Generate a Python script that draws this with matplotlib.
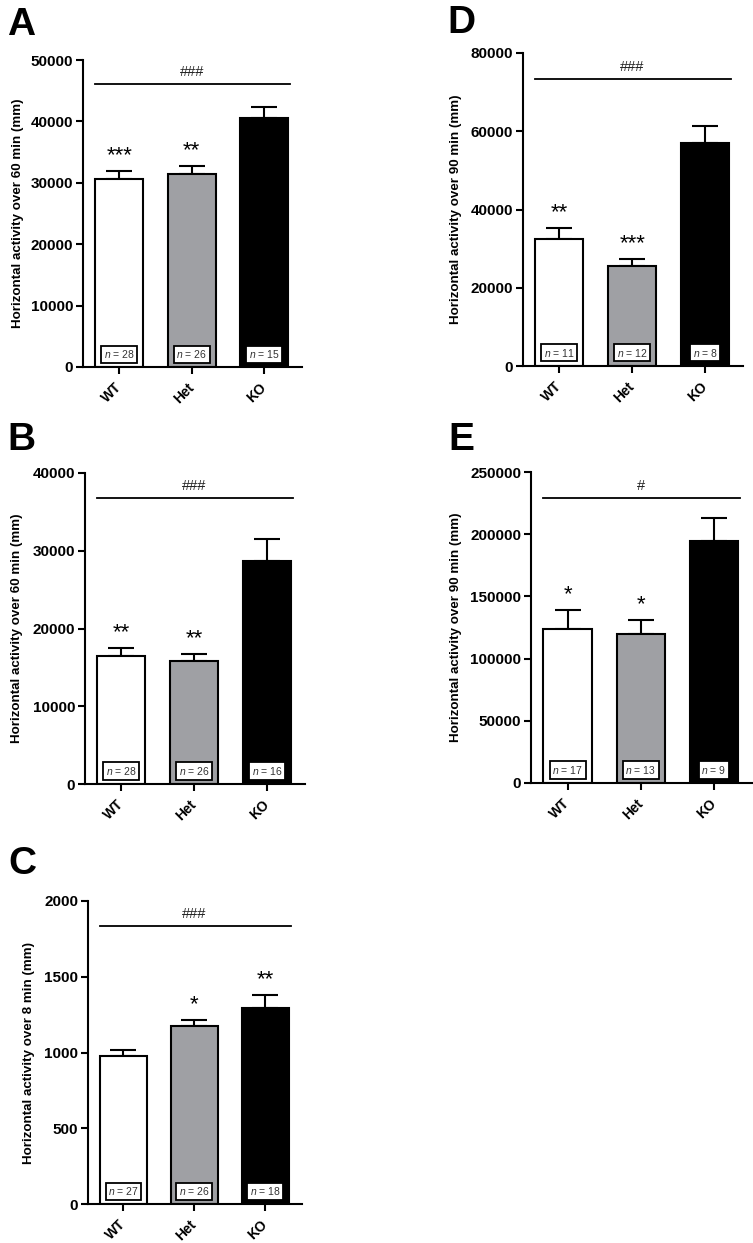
import matplotlib
matplotlib.use('Agg')
import matplotlib.pyplot as plt
import matplotlib.transforms as mtransforms

plt.rcParams['font.family'] = ['Liberation Sans', 'DejaVu Sans']
plt.rcParams['mathtext.fontset'] = 'custom'
plt.rcParams['mathtext.it'] = 'Liberation Sans:italic'
plt.rcParams['mathtext.rm'] = 'Liberation Sans'

# --- data ---
groups = ['WT', 'Het', 'KO']
colors = ['white', '#9fa0a4', 'black']

a_mean = [30600, 31500, 40600]
a_sem = [1300, 1250, 1700]
a_n = [28, 26, 15]
a_stars = ['***', '**', '']

b_mean = [16450, 15800, 28650]
b_sem = [1050, 900, 2850]
b_n = [28, 26, 16]
b_stars = ['**', '**', '']

c_mean = [977, 1175, 1295]
c_sem = [40, 40, 85]
c_n = [27, 26, 18]
c_stars = ['', '*', '**']

d_mean = [32400, 25500, 57000]
d_sem = [2850, 1800, 4350]
d_n = [11, 12, 8]
d_stars = ['**', '***', '']

e_mean = [123800, 119800, 194500]
e_sem = [15200, 11200, 18500]
e_n = [17, 13, 9]
e_stars = ['*', '*', '']

W, H = 753, 1243
fig = plt.figure(figsize=(W / 100, H / 100), dpi=100)


def px_axes(left, right, top, bottom):
    return fig.add_axes([left / W, 1 - bottom / H, (right - left) / W, (bottom - top) / H])


def panel(ax, letter, lx, ly, mean, sem, n, stars, ymax, ystep, ylabel,
          sig_text, sig_y, label_x):
    x = range(len(groups))
    ax.bar(x, mean, width=0.66, color=colors, edgecolor='black', linewidth=1.5, zorder=2)
    ax.errorbar(x, mean, yerr=[[0] * len(sem), sem], fmt='none', ecolor='black',
                elinewidth=1.5, capsize=9.5, capthick=1.5, zorder=1)
    for i in x:
        if stars[i]:
            ax.annotate(stars[i], (i, mean[i] + sem[i]), xytext=(0, 7),
                        textcoords='offset points', ha='center', va='baseline',
                        fontsize=16)
    trans = mtransforms.blended_transform_factory(ax.transData, ax.transAxes)
    for i in x:
        ax.text(i, 0.042, '$n$ = %d' % n[i], transform=trans, ha='center', va='center',
                fontsize=7.5, color='#333333',
                bbox=dict(boxstyle='square,pad=0.25', fc='white', ec='black', lw=1.3),
                zorder=3)
    ax.plot([-0.33, 2.36], [sig_y, sig_y], color='black', lw=1.3, clip_on=False)
    ax.annotate(sig_text, (1, sig_y), xytext=(0, 6), textcoords='offset points',
                ha='center', va='baseline', fontsize=10.5, color='#222222')

    ax.set_xlim(-0.5, 2.52)
    ax.set_ylim(0, ymax)
    ax.set_yticks(range(0, ymax + 1, ystep))
    ax.set_xticks(list(x))
    ax.set_xticklabels(groups, rotation=45, ha='right', va='center',
                       rotation_mode='anchor', fontsize=10, fontweight='bold')
    for lab in ax.get_yticklabels():
        lab.set_fontsize(11)
        lab.set_fontweight('bold')
    ax.set_ylabel(ylabel, fontsize=9.6, fontweight='bold')
    ax.yaxis.set_label_coords(label_x, 0.5)
    for s in ['top', 'right']:
        ax.spines[s].set_visible(False)
    for s in ['left', 'bottom']:
        ax.spines[s].set_linewidth(1.5)
    ax.tick_params(axis='both', width=1.5, length=5, pad=2)
    ax.tick_params(axis='x', pad=8)
    fig.text(lx / W, 1 - ly / H, letter, fontsize=28, fontweight='bold', va='baseline')


ax_a = px_axes(83, 302, 60, 367)
panel(ax_a, 'A', 7, 35, a_mean, a_sem, a_n, a_stars, 50000, 10000,
      'Horizontal activity over 60 min (mm)', '###', 46100, -0.27)

ax_d = px_axes(523, 743, 53, 366)
panel(ax_d, 'D', 447, 33, d_mean, d_sem, d_n, d_stars, 80000, 20000,
      'Horizontal activity over 90 min (mm)', '###', 73360, -0.277)

ax_b = px_axes(85, 305, 473, 784)
panel(ax_b, 'B', 7, 450, b_mean, b_sem, b_n, b_stars, 40000, 10000,
      'Horizontal activity over 60 min (mm)', '###', 36780, -0.282)

ax_e = px_axes(531, 752, 472, 783)
panel(ax_e, 'E', 448, 450, e_mean, e_sem, e_n, e_stars, 250000, 50000,
      'Horizontal activity over 90 min (mm)', '#', 229100, -0.312)

ax_c = px_axes(88, 302, 901, 1204)
panel(ax_c, 'C', 8, 874, c_mean, c_sem, c_n, c_stars, 2000, 500,
      'Horizontal activity over 8 min (mm)', '###', 1835, -0.248)

fig.savefig('out.png', dpi=100)
